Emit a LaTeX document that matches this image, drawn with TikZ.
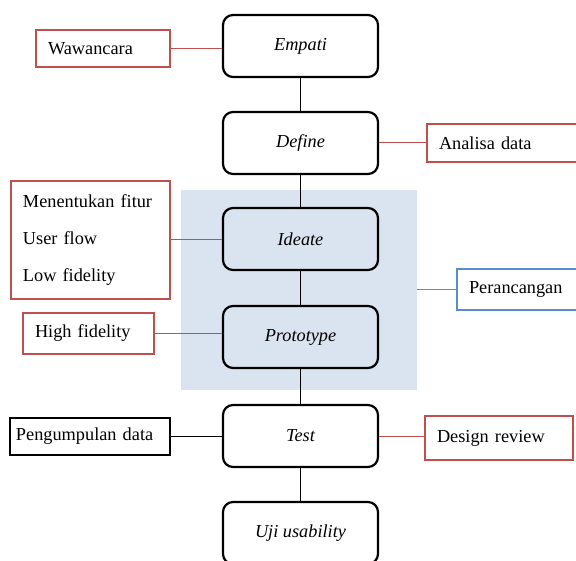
\documentclass[tikz,border=0pt]{standalone}
\usepackage{fontspec}
\setmainfont{Liberation Serif}
\definecolor{redb}{HTML}{C0504D}
\definecolor{blueb}{HTML}{5B8BCB}
\definecolor{shade}{HTML}{DAE3F0}
\begin{document}
\begin{tikzpicture}[x=1pt,y=-1pt,
  mainbox/.style={draw=black,line width=2.2pt,rounded corners=10pt,minimum width=155pt,minimum height=62pt,font=\fontsize{18.3}{22}\selectfont\itshape},
  sidebox/.style={draw=redb,line width=2pt,rectangle,inner xsep=12pt,align=left,minimum height=#1,font=\fontsize{18.3}{22}\selectfont},
  sidebox/.default=38pt,
  conn/.style={line width=1pt},
  rconn/.style={draw=redb,line width=1pt},
  bconn/.style={draw=blueb,line width=1pt}]
\useasboundingbox (0,0) rectangle (576,561);
\clip (0,0) rectangle (576,561);
% shaded band
\node[fill=shade,inner sep=0pt,minimum width=236pt,minimum height=200pt] (band) at (299,290) {};
% main boxes
\node[mainbox] (emp) at (300.5,46) {Empati};
\node[mainbox] (def) at (300.5,143) {Define};
\node[mainbox] (ide) at (300.5,239) {Ideate};
\node[mainbox] (pro) at (300.5,337) {Prototype};
\node[mainbox] (tes) at (300.5,436) {Test};
\node[mainbox] (uji) at (300.5,533) {Uji usability};
\draw[conn] (emp) -- (def);
\draw[conn] (def) -- (ide);
\draw[conn] (ide) -- (pro);
\draw[conn] (pro) -- (tes);
\draw[conn] (tes) -- (uji);
% side boxes
\node[sidebox=37pt,text width=110pt] (waw) at (103,48.5) {Wawancara};
\node[sidebox=38pt,text width=129pt] (ana) at (503.5,143) {Analisa data};
\node[sidebox=118pt,text width=135pt] (men) at (90.5,240) {Menentukan fitur\\[15pt]User flow\\[15pt]Low fidelity};
\node[sidebox=41pt,text width=107pt] (hig) at (88.5,333.5) {High fidelity};
\node[sidebox=41pt,text width=99pt,draw=blueb] (per) at (518.5,289.5) {Perancangan};
\node[sidebox=37pt,inner xsep=6pt,text width=148pt,draw=black,line width=1.4pt] (pen) at (90,436.5) {Pengumpulan data};
\node[sidebox=44pt,text width=124pt] (des) at (499,438) {Design review};
% side connectors
\draw[rconn] (waw.east) -- (waw.east -| emp.west);
\draw[rconn] (ana.west) -- (ana.west -| def.east);
\draw[rconn] (men.east) -- (men.east -| ide.west);
\draw[rconn] (hig.east) -- (hig.east -| pro.west);
\draw[bconn] (per.west) -- (per.west -| band.east);
\draw[conn] (pen.east) -- (pen.east -| tes.west);
\draw[rconn] (tes.east) -- (tes.east -| des.west);
\end{tikzpicture}
\end{document}
